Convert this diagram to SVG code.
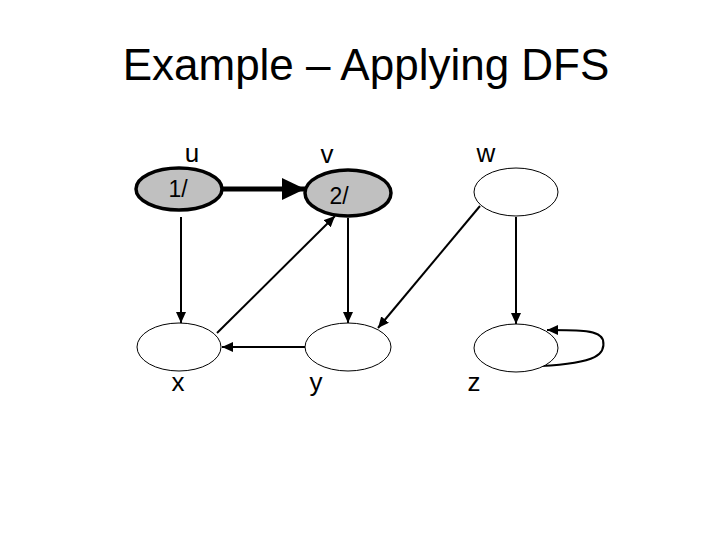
<svg xmlns="http://www.w3.org/2000/svg" width="720" height="540" viewBox="0 0 720 540">
<style>
text{font-family:"Liberation Sans",Arial,sans-serif;fill:#000}
.title{font-size:44px}
.lbl{font-size:26px}
.in{font-size:23px}
.gray{fill:#c0c0c0;stroke:#000;stroke-width:3.5}
.white{fill:#fff;stroke:#000;stroke-width:1}
.edge{fill:none;stroke:#000;stroke-width:2}
</style>
<defs>
<marker id="ah" markerUnits="userSpaceOnUse" markerWidth="12" markerHeight="10" refX="11" refY="5" orient="auto">
<path d="M0,0 L11,5 L0,10 z" fill="#000"/>
</marker>
<marker id="ahb" markerUnits="userSpaceOnUse" markerWidth="24" markerHeight="22" refX="23" refY="11" orient="auto">
<path d="M0,0 L23,11 L0,22 z" fill="#000"/>
</marker>
</defs>
<rect width="720" height="540" fill="#fff"/>
<text class="title" x="366" y="80" text-anchor="middle">Example – Applying DFS</text>
<g id="connectors">
<path d="M223,189 L305,189" fill="none" stroke="#000" stroke-width="5" marker-end="url(#ahb)"/>
<path class="edge" d="M181,217 L181,323" marker-end="url(#ah)"/>
<path class="edge" d="M348,218 L348,323" marker-end="url(#ah)"/>
<path class="edge" d="M516,217 L516,324" marker-end="url(#ah)"/>
<path class="edge" d="M305,347 L222,347" marker-end="url(#ah)"/>
<path class="edge" d="M217,333 L335,216" marker-end="url(#ah)"/>
<path class="edge" d="M480,206 L378,328" marker-end="url(#ah)"/>
<path class="edge" d="M541,366 C598,363 606,354 603,340 C600,330 580,330 547,330" stroke-width="2.4" marker-end="url(#ah)"/>
</g>
<g id="node-u">
<ellipse class="gray" cx="179" cy="189" rx="43" ry="21"/>
<text class="in" x="178" y="197" text-anchor="middle">1/</text>
<text class="lbl" x="192" y="162" text-anchor="middle">u</text>
</g>
<g id="node-v">
<ellipse class="gray" cx="348" cy="193" rx="43" ry="23"/>
<text class="in" x="339" y="204" text-anchor="middle">2/</text>
<text class="lbl" x="327" y="163" text-anchor="middle">v</text>
</g>
<g id="node-w">
<ellipse class="white" cx="516" cy="192" rx="42" ry="24"/>
<text class="lbl" x="486" y="162" text-anchor="middle">w</text>
</g>
<g id="node-x">
<ellipse class="white" cx="179" cy="347" rx="42" ry="24"/>
<text class="lbl" x="178" y="391" text-anchor="middle">x</text>
</g>
<g id="node-y">
<ellipse class="white" cx="348" cy="347" rx="43" ry="24"/>
<text class="lbl" x="316" y="391" text-anchor="middle">y</text>
</g>
<g id="node-z">
<ellipse class="white" cx="516" cy="348" rx="42" ry="24"/>
<text class="lbl" x="474" y="391" text-anchor="middle">z</text>
</g>
</svg>
